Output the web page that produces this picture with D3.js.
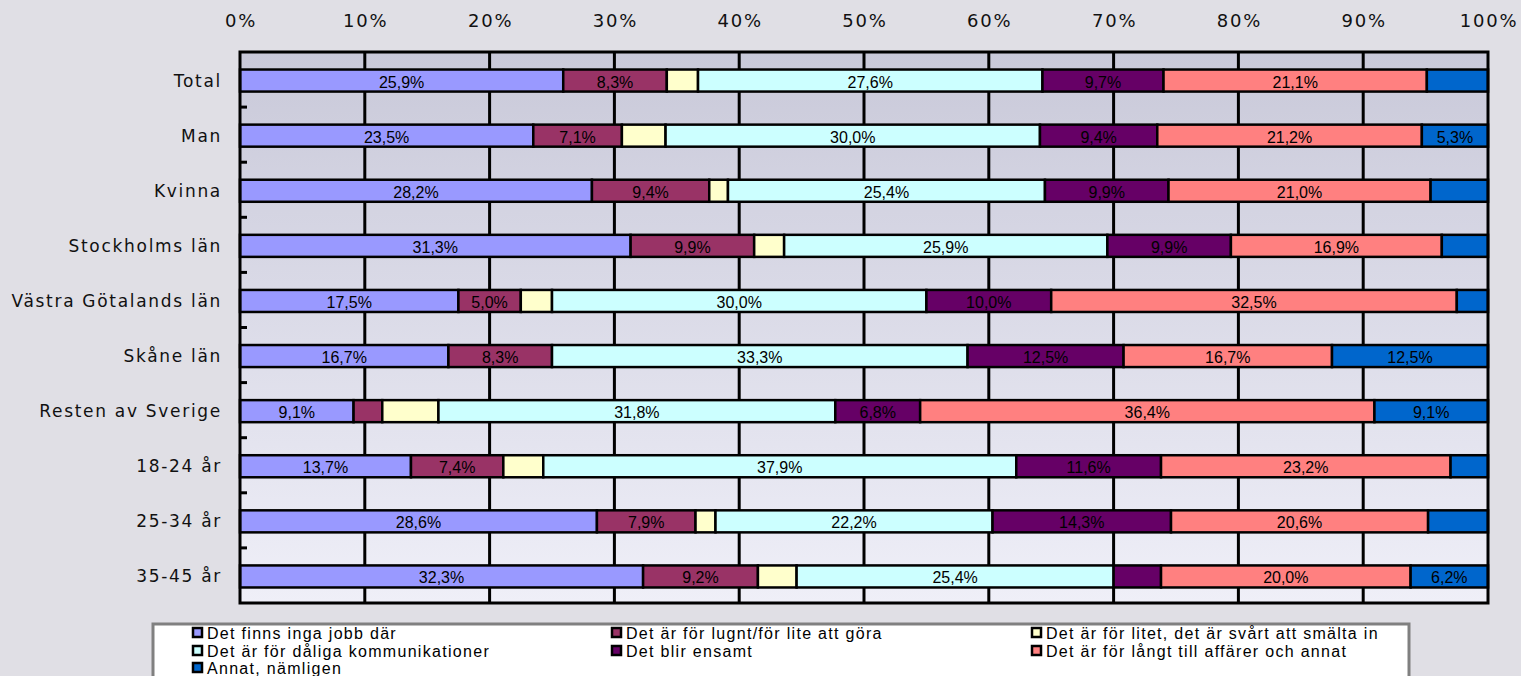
<!DOCTYPE html>
<html>
<head>
<meta charset="utf-8">
<script src="https://cdn.jsdelivr.net/npm/d3@7"></script>
<style>
  body { margin: 0; background: #e0dfe5; overflow: hidden; }
  .cat { font-family: "DejaVu Sans", sans-serif; font-size: 17px; letter-spacing: 1.7px; fill: #111; }
  .tick-label { font-family: "DejaVu Sans", sans-serif; font-size: 18px; letter-spacing: 1.8px; fill: #111; }
  .val { font-family: "Liberation Sans Narrow", "Arial Narrow", "Liberation Sans", sans-serif; font-size: 16px; fill: #000; }
  .leg { font-family: "Liberation Sans", sans-serif; font-size: 16px; letter-spacing: 1.3px; fill: #000; }
</style>
</head>
<body>
<div id="chart"></div>
<script>
const categories = ["Total", "Man", "Kvinna", "Stockholms län", "Västra Götalands län",
  "Skåne län", "Resten av Sverige", "18-24 år", "25-34 år", "35-45 år"];

const seriesNames = [
  "Det finns inga jobb där",
  "Det är för lugnt/för lite att göra",
  "Det är för litet, det är svårt att smälta in",
  "Det är för dåliga kommunikationer",
  "Det blir ensamt",
  "Det är för långt till affärer och annat",
  "Annat, nämligen"
];

const jobb      = [25.9, 23.5, 28.2, 31.3, 17.5, 16.7, 9.1, 13.7, 28.6, 32.3];
const lugnt     = [8.3, 7.1, 9.4, 9.9, 5.0, 8.3, 2.3, 7.4, 7.9, 9.2];
const litet     = [2.5, 3.5, 1.5, 2.4, 2.5, 0, 4.5, 3.2, 1.6, 3.1];
const komm      = [27.6, 30.0, 25.4, 25.9, 30.0, 33.3, 31.8, 37.9, 22.2, 25.4];
const ensamt    = [9.7, 9.4, 9.9, 9.9, 10.0, 12.5, 6.8, 11.6, 14.3, 3.8];
const langt     = [21.1, 21.2, 21.0, 16.9, 32.5, 16.7, 36.4, 23.2, 20.6, 20.0];
const annat     = [4.9, 5.3, 4.6, 3.7, 2.5, 12.5, 9.1, 3.0, 4.8, 6.2];

const xTicks = [0, 10, 20, 30, 40, 50, 60, 70, 80, 90, 100];
const colors = ["#9999ff", "#993366", "#ffffcc", "#ccffff", "#660066", "#ff8080", "#0066cc"];

const allSeries = [jobb, lugnt, litet, komm, ensamt, langt, annat];

// tabell för d3.stack
const rows = categories.map((c, i) => {
  const r = { cat: c };
  allSeries.forEach((s, k) => r["s" + k] = s[i]);
  return r;
});
const keys = allSeries.map((s, k) => "s" + k);

const width = 1521, height = 676;
const margin = { left: 240, right: 33, top: 52, bottom: 73 };

const svg = d3.select("#chart").append("svg")
  .attr("width", width).attr("height", height);

const x = d3.scaleLinear().domain([0, 100]).range([margin.left, width - margin.right]);
const y = d3.scaleBand().domain(categories)
  .range([margin.top, height - margin.bottom]).paddingInner(0.6).paddingOuter(0.3);

// bakgrund med gradient
const grad = svg.append("defs").append("linearGradient")
  .attr("id", "plotbg").attr("x1", 0).attr("y1", 0).attr("x2", 0).attr("y2", 1);
grad.append("stop").attr("offset", "0%").attr("stop-color", "#c9c9d9");
grad.append("stop").attr("offset", "100%").attr("stop-color", "#efeff8");

svg.append("rect")
  .attr("x", x(0)).attr("y", margin.top)
  .attr("width", x(100) - x(0)).attr("height", height - margin.bottom - margin.top)
  .attr("fill", "url(#plotbg)");

// vertikala stödlinjer
svg.append("g").selectAll("line")
  .data(xTicks.slice(1, -1))
  .join("line")
  .attr("x1", d => x(d)).attr("x2", d => x(d))
  .attr("y1", margin.top).attr("y2", height - margin.bottom)
  .attr("stroke", "#000").attr("stroke-width", 3);

// x-axel överst
svg.append("g").selectAll("text")
  .data(xTicks)
  .join("text")
  .attr("class", "tick-label")
  .attr("x", d => x(d) + 1).attr("y", 27)
  .attr("text-anchor", "middle")
  .text(d => d + "%");

// staplar
const stacked = d3.stack().keys(keys)(rows);
const fmt = d3.formatLocale({ decimal: ",", thousands: " ", grouping: [3], currency: ["", ""] }).format(".1f");
const shift = 1;

const layers = svg.append("g").selectAll("g")
  .data(stacked)
  .join("g")
  .attr("fill", (d, i) => colors[i]);

layers.selectAll("rect")
  .data(d => d.filter(p => p[1] - p[0] > 0))
  .join("rect")
  .attr("x", d => x(d[0]))
  .attr("y", d => y(d.data.cat) + shift)
  .attr("width", d => x(d[1]) - x(d[0]))
  .attr("height", y.bandwidth())
  .attr("stroke", "#000")
  .attr("stroke-width", 2.5);

// etiketter (bara segment med minst 5 %)
layers.selectAll("text")
  .data(d => d.filter(p => p[1] - p[0] >= 5))
  .join("text")
  .attr("class", "val")
  .attr("x", d => (x(d[0]) + x(d[1])) / 2)
  .attr("y", d => y(d.data.cat) + shift + y.bandwidth() / 2 + 7)
  .attr("text-anchor", "middle")
  .attr("fill", "#000")
  .text(d => fmt(d[1] - d[0]) + "%");

// ram runt diagrammet
svg.append("rect")
  .attr("x", x(0)).attr("y", margin.top)
  .attr("width", x(100) - x(0)).attr("height", height - margin.bottom - margin.top)
  .attr("fill", "none").attr("stroke", "#000").attr("stroke-width", 3);

// små streck på y-axeln
const step = y.step();
svg.append("g").selectAll("line")
  .data(categories.slice(0, -1))
  .join("line")
  .attr("x1", x(0)).attr("x2", x(0) + 7)
  .attr("y1", d => y(d) + y.bandwidth() / 2 + step / 2)
  .attr("y2", d => y(d) + y.bandwidth() / 2 + step / 2)
  .attr("stroke", "#000").attr("stroke-width", 3);

// kategorinamn
svg.append("g").selectAll("text")
  .data(categories)
  .join("text")
  .attr("class", "cat")
  .attr("x", 222)
  .attr("y", d => y(d) + shift + y.bandwidth() / 2 + 6)
  .attr("text-anchor", "end")
  .text(d => d);

// förklaring
const leg = svg.append("g");
leg.append("rect")
  .attr("x", 153).attr("y", 624).attr("width", 1256).attr("height", 60)
  .attr("fill", "#fff").attr("stroke", "#808080").attr("stroke-width", 3);

const colX = [193, 612, 1032];
const rowY = [633, 651, 668];
const items = leg.selectAll("g.item")
  .data(seriesNames)
  .join("g")
  .attr("class", "item")
  .attr("transform", (d, i) => `translate(${colX[i % 3]},${rowY[Math.floor(i / 3)]})`);

items.append("rect")
  .attr("x", 0).attr("y", -5).attr("width", 9).attr("height", 9)
  .attr("fill", (d, i) => colors[i])
  .attr("stroke", "#000").attr("stroke-width", 2.5);

items.append("text")
  .attr("class", "leg")
  .attr("x", 14).attr("y", 5.5)
  .text(d => d);
</script>
</body>
</html>
